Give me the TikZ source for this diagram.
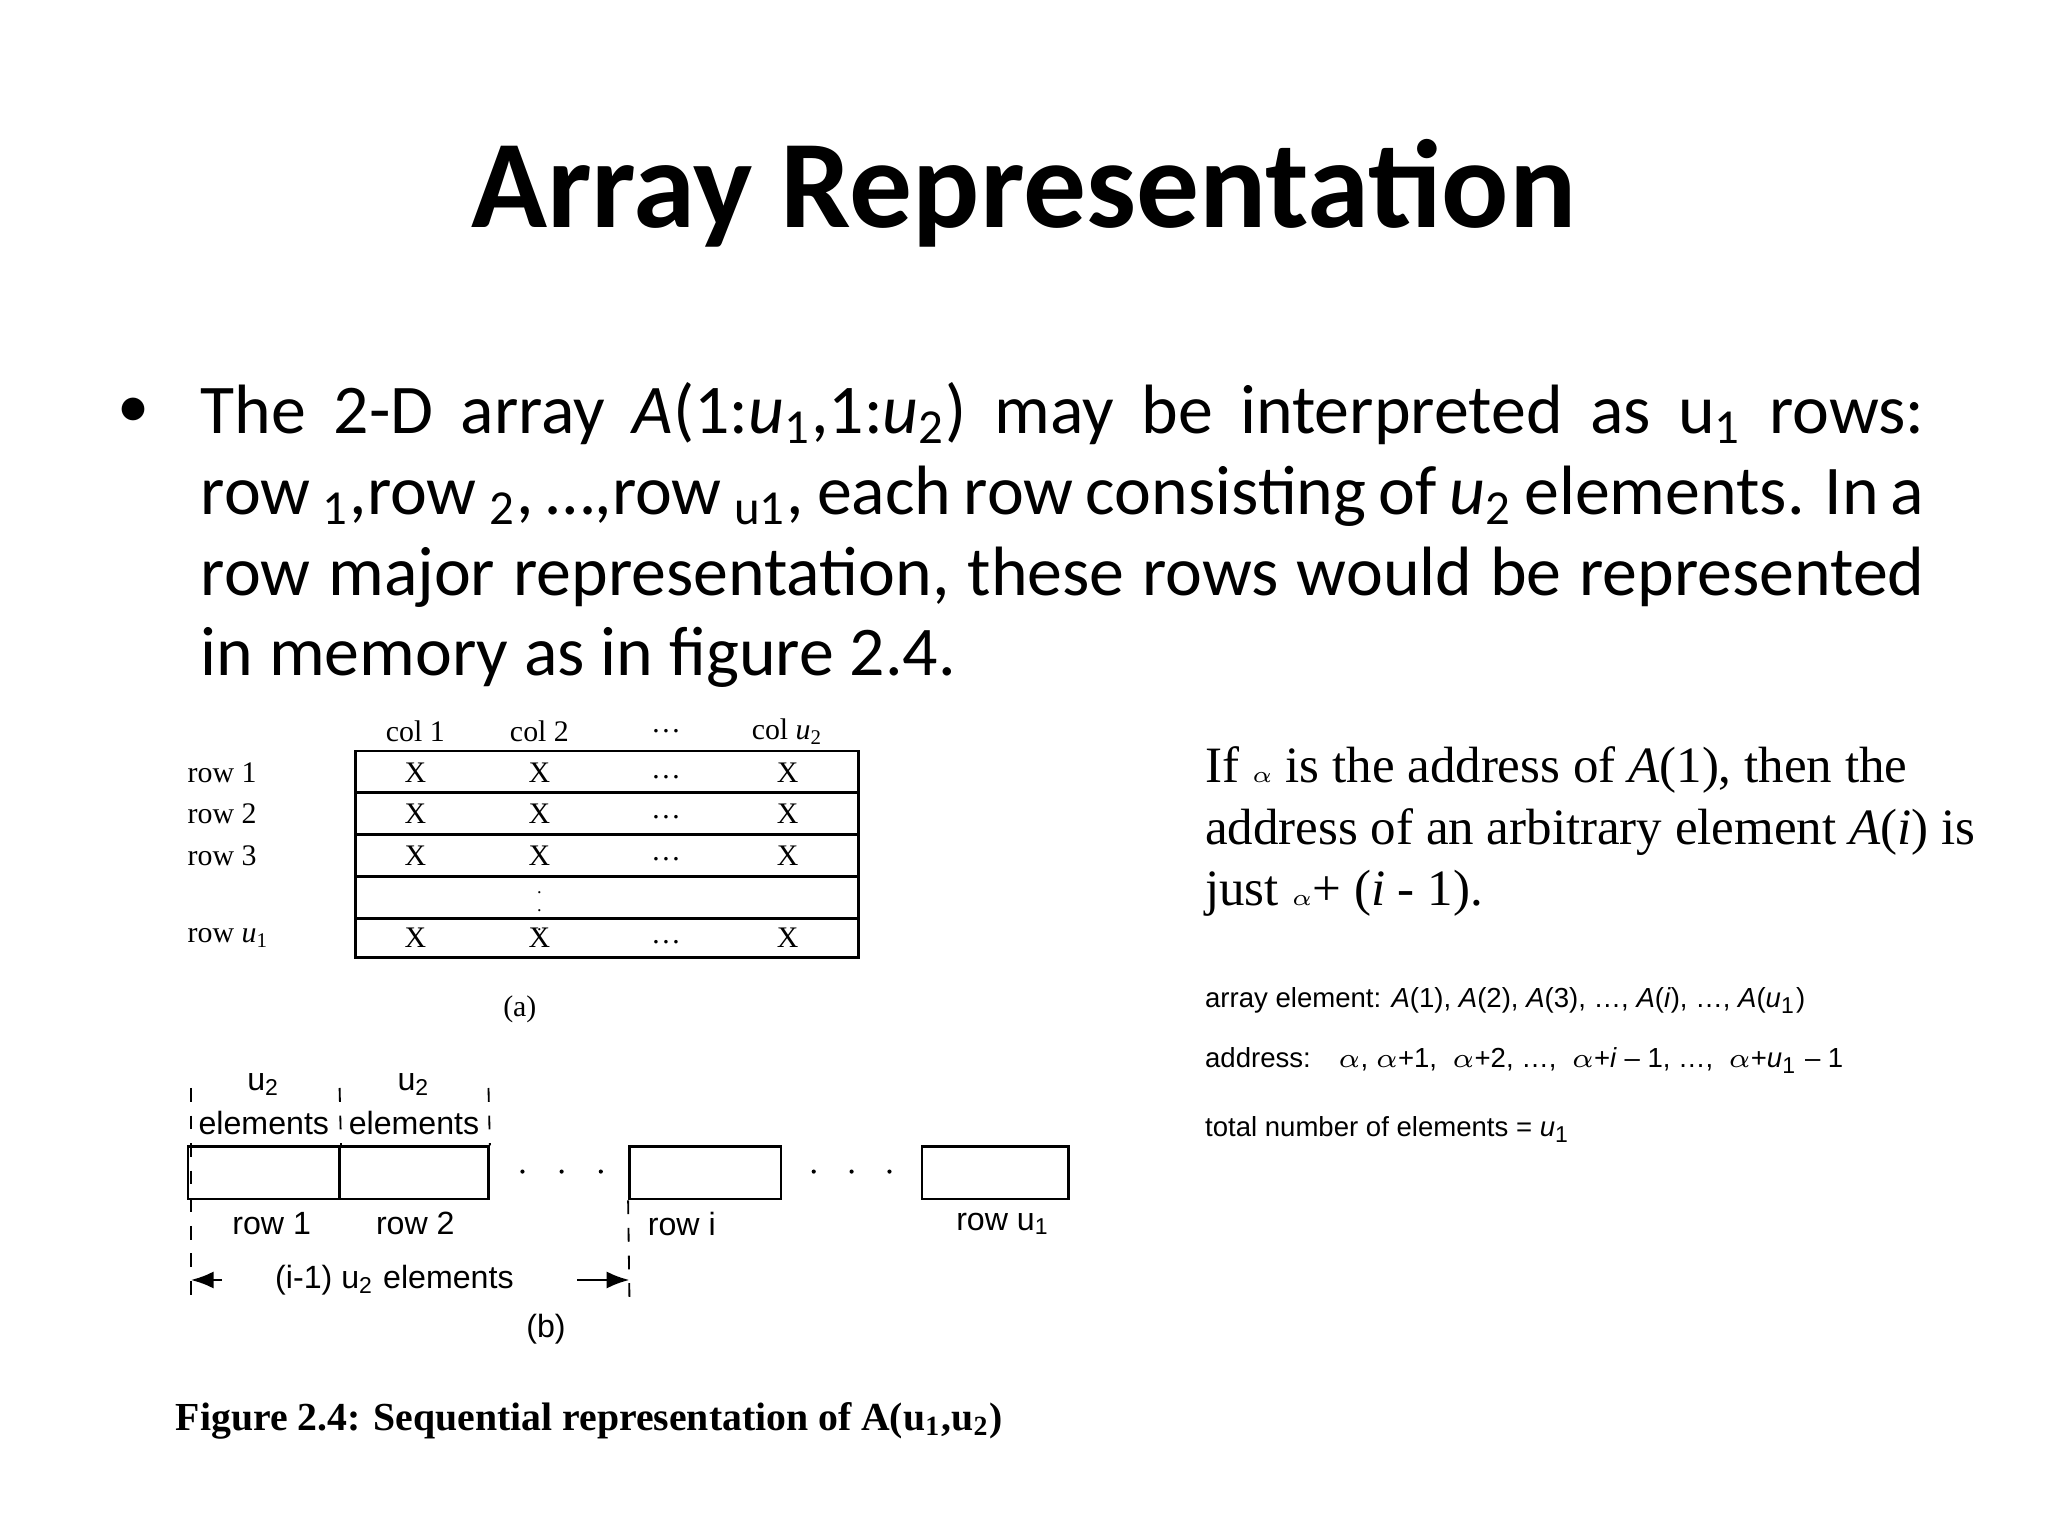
\documentclass[tikz,border=0pt]{standalone}
\usepackage{fontspec}
\setmainfont{Carlito}
\setsansfont{Liberation Sans}
\newfontfamily\timesf{Liberation Serif}
\usetikzlibrary{positioning,arrows.meta}

\newcommand\fullline[1]{\makebox[13.19cm][s]{#1}}

\tikzset{
  tlabel/.style = {font=\timesf\fontsize{6.5}{7}\selectfont, inner sep=0pt},
  blabel/.style = {font=\sffamily\fontsize{7}{8}\selectfont, inner sep=0pt},
  cell/.style   = {draw, line width=0.6pt},
  guide/.style  = {dashed, line width=0.4pt}
}

\begin{document}
\begin{tikzpicture}[x=0.01cm, y=-0.01cm]
        \useasboundingbox (0,0) rectangle (1568,1176);

        % title and bullet
        \node (title) at (784,148) {\fontsize{27.3}{32}\selectfont\bfseries Array Representation};
        \node (bullet) at (102,316) {\fontsize{14}{16}\selectfont\textbullet};
        \node[anchor=north west, inner sep=0pt, align=left,
              font=\fontsize{15.2}{17.6}\selectfont] (body) at (153,292)
        {\fullline{The 2-D array \textit{A}(1:\textit{u}\textsubscript{1},1:\textit{u}\textsubscript{2}) may be interpreted as u\textsubscript{1} rows:}\\
         \fullline{row \textsubscript{1},row \textsubscript{2}, \ldots,row \textsubscript{u1}, each row consisting of \textit{u}\textsubscript{2} elements. In a}\\
         \fullline{row major representation, these rows would be represented}\\
         in memory as in figure 2.4.};

        % (a) the table
        \draw[cell] (272,575) rectangle (657,733);
        \foreach \y in {607,639,671,703}
          \draw[cell] (272,\y) -- (657,\y);
        \foreach \x/\t in {318/col 1, 413/col 2, 510/\ldots, 603/col \textit{u}\textsubscript{2}}
          \node[tlabel] at (\x,560) {\t};
        \foreach \y/\r in {592/row 1, 623/row 2, 655/row 3, 718/row \textit{u}\textsubscript{1}}
        {
          \node[tlabel, anchor=west] at (143,\y) {\r};
          \foreach \x in {318,413,603}
            \node[tlabel] at (\x,\y) {X};
          \node[tlabel] at (510,\y+3) {\ldots};
        }
        \node[font=\timesf\fontsize{4}{4}\selectfont, inner sep=0pt] (vdots) at (413,687) {$\vdots$};
        \node[tlabel] (capa) at (398,773) {(a)};

        % (b) the rows in memory
        \node[cell, minimum width=1.16cm, minimum height=0.4cm, inner sep=0pt] (r1) at (202,898) {};
        \node[cell, minimum width=1.14cm, minimum height=0.4cm, inner sep=0pt] (r2) at (317,898) {};
        \node[cell, minimum width=1.16cm, minimum height=0.4cm, inner sep=0pt] (ri) at (540,898) {};
        \node[cell, minimum width=1.12cm, minimum height=0.4cm, inner sep=0pt] (ru) at (762,898) {};
        \foreach \x in {400,430,460,623,652,681}
          \fill (\x,897) circle (1.6);

        \coordinate (g1) at (146,833);
        \coordinate (g2) at (260,833);
        \coordinate (g3) at (374,833);
        \coordinate (g4) at (482,1000);
        \draw[guide] (g1) -- (146,1000);
        \draw[guide] (g2) -- (r1.north east);
        \draw[guide] (g3) -- (r2.north east);
        \draw[guide] (ri.south west) -- (g4);

        \foreach \x in {202,317}
        {
          \node[blabel] at (\x,830) {u\textsubscript{2}};
          \node[blabel] at (\x,860) {elements};
        }
        \node[blabel] (lr1) at (208,937) {row 1};
        \node[blabel] (lr2) at (318,937) {row 2};
        \node[blabel] (lri) at (522,937) {row i};
        \node[blabel] (lru) at (768,937) {row u\textsubscript{1}};

        \node[blabel] (span) at (302,980) {(i-1) u\textsubscript{2} elements};
        \coordinate (sl) at (146,980);
        \coordinate (sr) at (482,980);
        \draw[-{Latex[length=5pt]}, line width=0.6pt] (170,980) -- (sl);
        \draw[-{Latex[length=5pt]}, line width=0.6pt] (442,980) -- (sr);
        \node[blabel] (capb) at (418,1018) {(b)};

        \node[anchor=west, inner sep=0pt, font=\timesf\bfseries\fontsize{8.65}{10}\selectfont] (caption) at (134,1088)
          {Figure 2.4: Sequential representation of A(u\textsubscript{1},u\textsubscript{2})};

        % right-hand notes
        \node[anchor=north west, inner sep=0pt, align=left,
              font=\timesf\fontsize{11.1}{13.4}\selectfont] (note) at (922,571)
        {If {\tiny$\alpha$} is the address of \textit{A}(1), then the\\ address of an arbitrary element \textit{A}(\textit{i}) is\\ just {\tiny$\alpha$}+ (\textit{i} - 1).};

        \node[anchor=west, inner sep=0pt, font=\sffamily\fontsize{6}{7}\selectfont] (elem) at (922,766)
          {array element: \textit{A}(1), \textit{A}(2), \textit{A}(3), \ldots, \textit{A}(\textit{i}), \ldots, \textit{A}(\textit{u}\textsubscript{1})};
        \node[anchor=west, inner sep=0pt, font=\sffamily\fontsize{6}{7}\selectfont] (addr) at (922,812)
          {address:\quad $\alpha$,\ $\alpha$+1,\ \ $\alpha$+2, \ldots,\ \ $\alpha$+\textit{i} -- 1, \ldots,\ \ $\alpha$+\textit{u}\textsubscript{1} -- 1};
        \node[anchor=west, inner sep=0pt, font=\sffamily\fontsize{6}{7}\selectfont] (total) at (922,865)
          {total number of elements = \textit{u}\textsubscript{1}};
\end{tikzpicture}
\end{document}
